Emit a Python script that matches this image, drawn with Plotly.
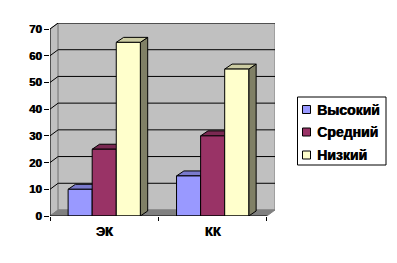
import plotly.graph_objects as go

# ---- data ----
categories = ["ЭК", "КК"]
series_names = ["Высокий", "Средний", "Низкий"]
values_high = [10, 15]
values_mid = [25, 30]
values_low = [65, 55]
series_values = [values_high, values_mid, values_low]
front_colors = ["#9999FF", "#993366", "#FFFFCC"]
top_colors = ["#7A7ACC", "#7A2952", "#CCCCA3"]
side_colors = ["#4D4D80", "#4D1A33", "#808066"]
y_ticks = [0, 10, 20, 30, 40, 50, 60, 70]

FONT = "Liberation Sans, Arial, sans-serif"
SHADOW = "0.6px 0px 0px black"

# geometry (3D illusion)
DXW, DYW = 0.075, 2.25      # wall depth in data units
DXB, DYB = 0.068, 1.87      # bar depth
BW = 0.222                  # bar width
n_ser = len(series_names)
cat_pos = list(range(len(categories)))
x0, x1 = -0.5, len(categories) - 0.5
ymax = max(y_ticks)

fig = go.Figure()

shapes = []
# left side wall
shapes.append(dict(type="path", xref="x", yref="y", layer="below",
                   path=f"M {x0},0 L {x0+DXW},{DYW} L {x0+DXW},{ymax+DYW} L {x0},{ymax} Z",
                   fillcolor="#C0C0C0", line=dict(color="#808080", width=1)))
# back wall
shapes.append(dict(type="rect", xref="x", yref="y", layer="below",
                   x0=x0+DXW, x1=x1+DXW, y0=DYW, y1=ymax+DYW,
                   fillcolor="#C0C0C0", line=dict(color="#808080", width=1)))
# floor
shapes.append(dict(type="path", xref="x", yref="y", layer="below",
                   path=f"M {x0},0 L {x1},0 L {x1+DXW},{DYW} L {x0+DXW},{DYW} Z",
                   fillcolor="#808080", line=dict(color="#808080", width=1)))
# gridlines
for t in y_ticks[1:]:
    shapes.append(dict(type="path", xref="x", yref="y", layer="below",
                       path=f"M {x0},{t} L {x0+DXW},{t+DYW} L {x1+DXW},{t+DYW}",
                       line=dict(color="black", width=1)))

# bars: fronts as bar traces, top/side faces as shapes behind them
for i, (name, vals) in enumerate(zip(series_names, series_values)):
    off = (i - (n_ser - 1) / 2) * BW
    xs = [c + off for c in cat_pos]
    for xc, v in zip(xs, vals):
        a, b = xc - BW / 2, xc + BW / 2
        shapes.append(dict(type="path", xref="x", yref="y", layer="below",
                           path=f"M {b},0 L {b},{v} L {b+DXB},{v+DYB} L {b+DXB},{DYB} Z",
                           fillcolor=side_colors[i], line=dict(color="black", width=1)))
        shapes.append(dict(type="path", xref="x", yref="y", layer="below",
                           path=f"M {a},{v} L {b},{v} L {b+DXB},{v+DYB} L {a+DXB},{v+DYB} Z",
                           fillcolor=top_colors[i], line=dict(color="black", width=1)))
    fig.add_trace(go.Bar(name=name, x=xs, y=vals, width=BW,
                         marker=dict(color=front_colors[i], line=dict(color="black", width=1)),
                         showlegend=False))

# axis lines (front)
shapes.append(dict(type="line", xref="x", yref="y", layer="above",
                   x0=x0, x1=x0, y0=0, y1=ymax, line=dict(color="black", width=1)))
shapes.append(dict(type="line", xref="x", yref="y", layer="above",
                   x0=x0, x1=x1, y0=0, y1=0, line=dict(color="black", width=1)))

# manual legend (pixel -> paper helpers)
L, R, T, B = 50, 122, 23, 47
W, H = 397 - L - R, 263 - T - B
def px(x):
    return (x - L) / W
def py(y):
    return (263 - B - y) / H

annotations = []
shapes.append(dict(type="rect", xref="paper", yref="paper",
                   x0=px(297.5), x1=px(386), y0=py(97), y1=py(165),
                   fillcolor="white", line=dict(color="black", width=1)))
row_y = [109.5, 132, 155]
for i, name in enumerate(series_names):
    yc = row_y[i]
    shapes.append(dict(type="rect", xref="paper", yref="paper",
                       x0=px(302.5), x1=px(310.5), y0=py(yc - 4), y1=py(yc + 4),
                       fillcolor=front_colors[i], line=dict(color="black", width=1)))
    annotations.append(dict(xref="paper", yref="paper", x=px(315), y=py(yc),
                            xanchor="left", yanchor="middle", showarrow=False,
                            text=f"<b>{name}</b>",
                            font=dict(family=FONT, size=14, color="black", shadow=SHADOW)))

fig.update_layout(
    width=397, height=263,
    margin=dict(l=L, r=R, t=T, b=B, pad=0),
    paper_bgcolor="white", plot_bgcolor="white",
    barmode="overlay",
    showlegend=False,
    shapes=shapes,
    annotations=annotations,
    xaxis=dict(range=[x0, x1 + DXW], tickvals=cat_pos,
               ticktext=[f"<b>{c}</b>" for c in categories],
               ticks="", showgrid=False, zeroline=False, showline=False,
               tickfont=dict(family=FONT, size=13, color="black", shadow=SHADOW),
               ticklabelstandoff=6,
               minor=dict(tickvals=[x0 + k for k in range(len(categories) + 1)],
                          ticks="outside", ticklen=4, tickcolor="black", showgrid=False)),
    yaxis=dict(range=[0, ymax + DYW], tickvals=y_ticks,
               ticktext=[f"<b>{t}</b>" for t in y_ticks],
               ticks="outside", ticklen=5, tickcolor="black",
               showgrid=False, zeroline=False, showline=False,
               tickfont=dict(family=FONT, size=11.5, color="black", shadow=SHADOW)),
)

fig.write_html("out.html")
